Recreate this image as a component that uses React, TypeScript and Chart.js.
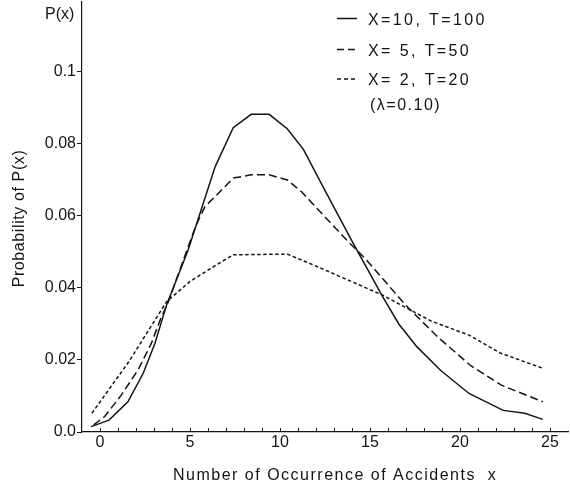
import React, { useEffect, useRef } from 'react';
import { Chart, registerables } from 'chart.js';

Chart.register(...registerables);

// ---- data ----
const solidX = [-0.5, 0.5, 1.55, 2.4, 3.05, 3.7, 4.9, 6.4, 7.4, 8.4, 9.4, 10.4, 11.3, 12.4, 14.0, 15.7, 16.6, 17.6, 18.9, 20.5, 22.4, 23.6, 24.6];
const solidY = [0.0015, 0.0033, 0.0084, 0.0163, 0.0246, 0.0353, 0.0506, 0.0737, 0.0845, 0.0882, 0.0882, 0.0842, 0.0785, 0.068, 0.053, 0.0376, 0.03, 0.0237, 0.0172, 0.0107, 0.006, 0.0052, 0.0035];

const dashedX = [-0.35, 0.26, 1.19, 2.11, 2.85, 3.41, 3.75, 5.3, 5.83, 6.48, 7.4, 8.4, 9.4, 10.4, 11.2, 13.7, 14.8, 17.0, 18.8, 20.6, 22.3, 24.6];
const dashedY = [0.002, 0.0043, 0.0103, 0.0172, 0.0246, 0.032, 0.0355, 0.057, 0.0626, 0.0658, 0.0705, 0.0714, 0.0714, 0.07, 0.0667, 0.0533, 0.0478, 0.0351, 0.0262, 0.0184, 0.013, 0.0084];

const dottedX = [-0.45, 1.6, 3.7, 5.0, 6.4, 7.4, 10.4, 11.85, 15.7, 18.4, 20.5, 22.2, 24.6];
const dottedY = [0.0052, 0.0195, 0.0362, 0.0418, 0.0462, 0.0492, 0.0494, 0.0464, 0.038, 0.0308, 0.0269, 0.022, 0.0177];

const seriesLabels = ['X=10, T=100', 'X= 5, T=50', 'X= 2, T=20'];
const noteLabel = '(λ=0.10)';

const xTicks = [0, 5, 10, 15, 20, 25];
const xMinorTicks = [0, 1, 2, 3, 4, 5, 6, 7, 8, 9, 10, 11, 12, 13, 14, 15, 16, 17, 18, 19, 20, 21, 22, 23, 24, 25];
const yTicks = [0, 0.02, 0.04, 0.06, 0.08, 0.1];
const yTickLabels = ['0.0', '0.02', '0.04', '0.06', '0.08', '0.1'];

const xTitle = 'Number of Occurrence of Accidents  x';
const yTitle = 'Probability of P(x)';
const yTopLabel = 'P(x)';

const FONT = '"Liberation Sans", Arial, Helvetica, sans-serif';
const INK = '#141414';

const toPoints = (xs: number[], ys: number[]) => xs.map((x, i) => ({ x, y: ys[i] }));

const dashes = [[], [8, 4], [3.5, 2.5]];
const legendDashes = [[], [7, 4], [4, 3]];

const decorPlugin = {
  id: 'decor',
  afterDraw(chart: any) {
    const ctx = chart.ctx as CanvasRenderingContext2D;
    const xs = chart.scales.x;
    const ys = chart.scales.y;
    ctx.save();
    // inward minor ticks on x axis
    ctx.strokeStyle = INK;
    ctx.lineWidth = 1;
    ctx.setLineDash([]);
    xMinorTicks.forEach((v) => {
      const px = Math.round(xs.getPixelForValue(v)) + 0.5;
      ctx.beginPath();
      ctx.moveTo(px, ys.bottom);
      ctx.lineTo(px, ys.bottom - 4);
      ctx.stroke();
    });

    ctx.fillStyle = INK;
    ctx.font = `16px ${FONT}`;
    // P(x) at top of y axis
    ctx.textAlign = 'left';
    ctx.textBaseline = 'alphabetic';
    (ctx as any).letterSpacing = '0px';
    ctx.fillText(yTopLabel, 45, 19);

    // y title
    ctx.save();
    (ctx as any).letterSpacing = '0.6px';
    ctx.translate(24, 218.5);
    ctx.rotate(-Math.PI / 2);
    ctx.textAlign = 'center';
    ctx.textBaseline = 'alphabetic';
    ctx.fillText(yTitle, 0, 0);
    ctx.restore();

    // x title
    (ctx as any).letterSpacing = '1.5px';
    ctx.textAlign = 'left';
    ctx.textBaseline = 'alphabetic';
    ctx.fillText(xTitle, 173, 480);

    // legend
    const rowsBase = [25, 55.5, 85];
    const lineY = [18.5, 49.5, 79];
    (ctx as any).letterSpacing = '2.4px';
    seriesLabels.forEach((lab, i) => {
      ctx.save();
      ctx.setLineDash(legendDashes[i]);
      ctx.lineWidth = 1.5;
      ctx.beginPath();
      ctx.moveTo(337, lineY[i]);
      ctx.lineTo(357, lineY[i]);
      ctx.stroke();
      ctx.restore();
      ctx.fillText(lab, 368, rowsBase[i]);
    });
    (ctx as any).letterSpacing = '1.5px';
    ctx.fillText(noteLabel, 370, 110);
    ctx.restore();
  },
};

export default function App() {
  const ref = useRef<HTMLCanvasElement | null>(null);

  useEffect(() => {
    if (!ref.current) return;
    const datasets = [
      toPoints(solidX, solidY),
      toPoints(dashedX, dashedY),
      toPoints(dottedX, dottedY),
    ].map((data, i) => ({
      label: seriesLabels[i],
      data,
      borderColor: INK,
      borderWidth: 1.5,
      borderDash: dashes[i],
      pointRadius: 0,
      tension: 0,
      fill: false,
      showLine: true,
    }));

    const chart = new Chart(ref.current, {
      type: 'scatter',
      data: { datasets },
      options: {
        animation: false,
        responsive: false,
        maintainAspectRatio: false,
        layout: { padding: { left: 0, right: 2, top: 2, bottom: 0 } },
        plugins: { legend: { display: false }, tooltip: { enabled: false } },
        scales: {
          x: {
            type: 'linear',
            min: -1,
            max: 26,
            afterBuildTicks: (scale: any) => {
              scale.ticks = xTicks.map((v) => ({ value: v }));
            },
            afterFit: (scale: any) => {
              scale.height = 52;
              scale.paddingLeft = 0;
              scale.paddingRight = 0;
            },
            grid: { display: false, drawTicks: false, tickLength: 0 },
            border: { display: true, color: INK, width: 1.2 },
            ticks: {
              color: INK,
              font: { family: FONT, size: 16 },
              padding: 1,
              maxRotation: 0,
              autoSkip: false,
              callback: (v: any) => String(v),
            },
          },
          y: {
            type: 'linear',
            min: 0,
            max: 0.1194,
            afterBuildTicks: (scale: any) => {
              scale.ticks = yTicks.map((v) => ({ value: v }));
            },
            afterFit: (scale: any) => {
              scale.width = 82;
              scale.paddingTop = 0;
              scale.paddingBottom = 0;
            },
            grid: { display: true, drawOnChartArea: false, drawTicks: true, tickLength: 5, color: INK, lineWidth: 1 },
            border: { display: true, color: INK, width: 1.2 },
            ticks: {
              color: INK,
              font: { family: FONT, size: 16 },
              padding: 1,
              autoSkip: false,
              callback: (v: any) => {
                const i = yTicks.findIndex((t) => Math.abs(t - v) < 1e-9);
                return i >= 0 ? yTickLabels[i] : '';
              },
            },
          },
        },
      },
      plugins: [decorPlugin],
    });
    return () => chart.destroy();
  }, []);

  return (
    <div style={{ position: 'absolute', left: 0, top: 0, width: 570, height: 484, background: '#fff' }}>
      <canvas ref={ref} width={570} height={484} style={{ display: 'block' }} />
    </div>
  );
}
